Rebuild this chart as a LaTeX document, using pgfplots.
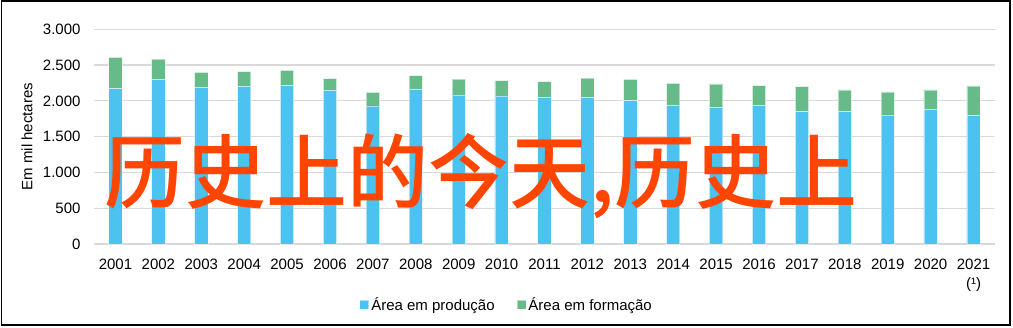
\documentclass[border=0pt]{standalone}
\usepackage{pgfplots}
\pgfplotsset{compat=1.18}
\usepackage{fontspec}
\setmainfont{Liberation Sans}
\newfontfamily\cjk[UprightFont={* Medium}]{Noto Sans CJK SC}
\definecolor{bluebar}{RGB}{75,194,240}
\definecolor{greenbar}{RGB}{102,187,136}
\definecolor{wm}{RGB}{255,69,0}
\pgfplotstableread{
x prod form
0 2170 439
1 2301 284
2 2189 210
3 2203 205
4 2212 215
5 2147 163
6 1928 191
7 2161 191
8 2082 223
9 2068 214
10 2049 219
11 2045 274
12 2003 298
13 1938 307
14 1910 326
15 1938 274
16 1849 349
17 1854 298
18 1802 322
19 1882 270
20 1793 415
}\datatable
\begin{document}
\begin{tikzpicture}[x=1pt,y=1pt]
\useasboundingbox (0,0) rectangle (1013,327);
\draw[line width=1.4pt] (1.5,2) rectangle (1010,326);
\begin{axis}[
  at={(94pt,83pt)}, anchor=south west,
  scale only axis, width=901pt, height=214.7pt,
  xmin=-0.5, xmax=20.5, ymin=0, ymax=3000,
  ybar stacked, bar width=13.3pt,
  xtick={0,...,20},
  xticklabels={2001,2002,2003,2004,2005,2006,2007,2008,2009,2010,2011,2012,2013,2014,2015,2016,2017,2018,2019,2020,{2021\\(¹)}},
  xticklabel style={align=center, font=\fontsize{15}{19}\selectfont, yshift=-11pt},
  ytick={0,500,...,3000},
  yticklabel style={font=\fontsize{15}{18}\selectfont, xshift=-10pt},
  /pgf/number format/1000 sep={.},
  /pgf/number format/assume math mode=true,
  ymajorgrids, major grid style={draw=black!15, line width=1.2pt},
  axis line style={draw=none},
  major tick length=0pt, tick style={draw=none},
  ylabel={Em mil hectares},
  ylabel style={at={(axis description cs:-0.0744,0.5)}, anchor=center, font=\fontsize{15}{18}\selectfont},
  legend style={at={(axis description cs:0.458,-0.284)}, anchor=center, draw=none, legend columns=2,
    font=\fontsize{15}{18}\selectfont, nodes={inner sep=2pt},
    /tikz/every even column/.append style={column sep=20pt}},
  legend image code/.code={\fill[#1] (0pt,-4.5pt) rectangle (9pt,4.5pt);},
]
\addplot[fill=bluebar, draw=white, draw opacity=0.5, line width=0.8pt] table[x=x, y=prod] {\datatable};
\addplot[fill=greenbar, draw=white, draw opacity=0.5, line width=0.8pt] table[x=x, y=form] {\datatable};
\legend{Área em produção, Área em formação}
\end{axis}
\node[font=\cjk\fontsize{81}{81}\selectfont, text=wm, inner sep=0pt] at (481,151) {历史上的今天,历史上};
\end{tikzpicture}
\end{document}
